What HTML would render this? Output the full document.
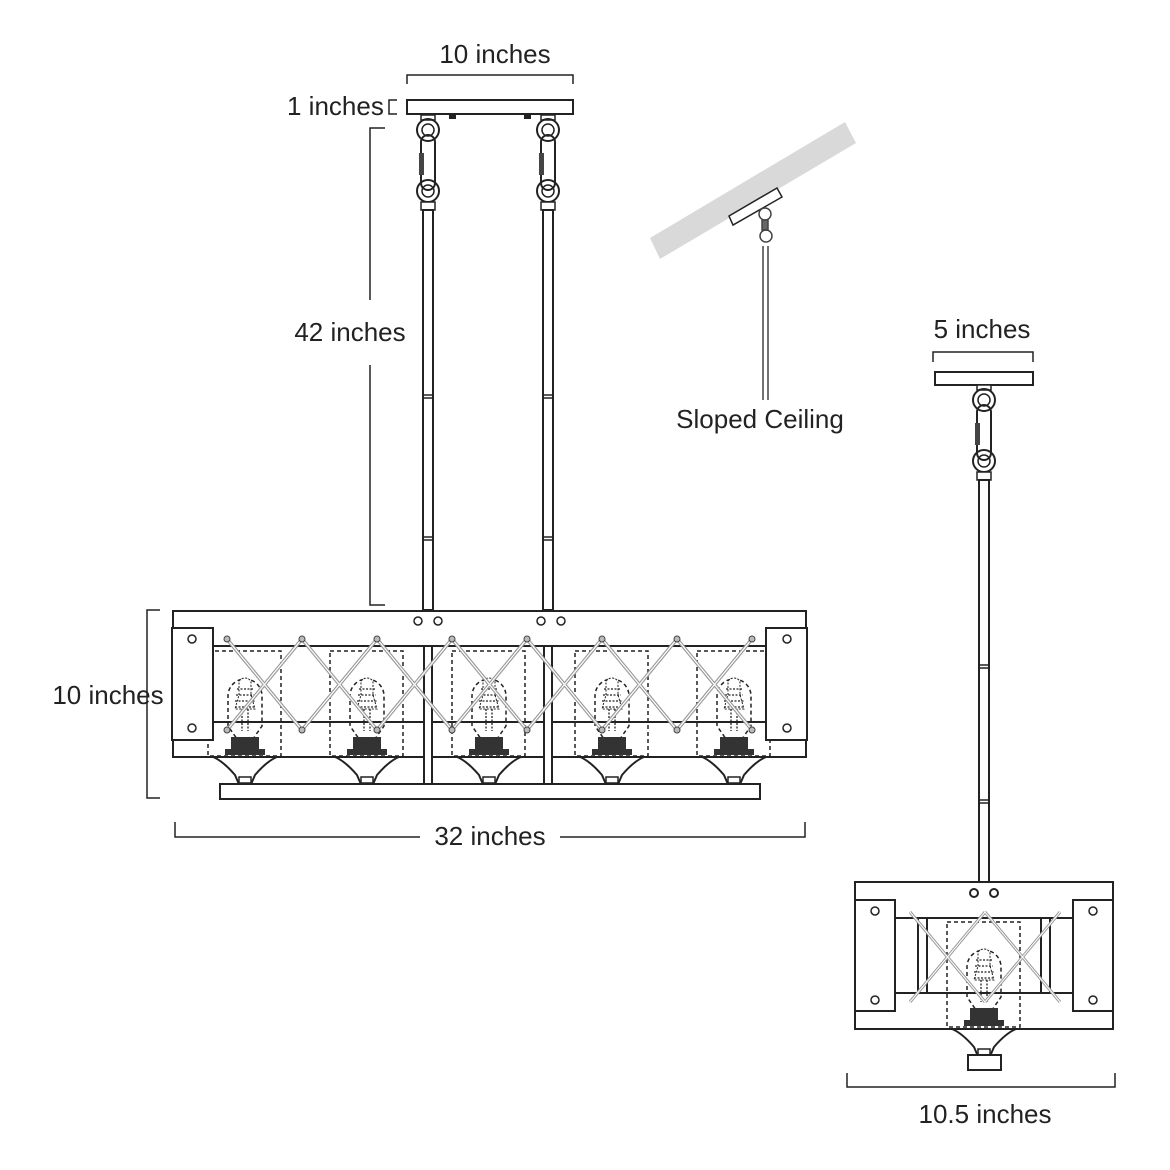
<!DOCTYPE html>
<html><head><meta charset="utf-8"><style>
html,body{margin:0;padding:0;background:#fff;}
svg{display:block}
text{font-family:"Liberation Sans",Arial,sans-serif;font-size:26px;fill:#222}
</style></head><body>
<svg width="1170" height="1170" viewBox="0 0 1170 1170" xmlns="http://www.w3.org/2000/svg">
<defs>
<g id="bulb">
  <rect x="-37" y="0" width="73" height="105" fill="none" stroke="#222" stroke-width="1.5" stroke-dasharray="4,3"/>
  <path d="M-17,75 L-17,45 A17,17 0 0 1 17,45 L17,75 Q10,85 8,88 L-8,88 Q-10,85 -17,75Z" fill="none" stroke="#222" stroke-width="1.5" stroke-dasharray="4,3"/>
  <path d="M-6,44 L-6,30 Q0,24 6,30 L6,44 L10,58 L-10,58Z" fill="#fff" stroke="#222" stroke-width="1" stroke-dasharray="2,1.5"/>
  <path d="M-8,38 H8 M-9,44 H9 M-10,50 H10 M-10,56 H10 M-3,58 V80 M3,58 V80" stroke="#222" stroke-width="1.3" stroke-dasharray="2,1.5"/>
  <rect x="-14" y="86" width="28" height="12" fill="#333"/>
  <rect x="-20" y="98" width="40" height="6" fill="#333"/>
</g>
<g id="cup">
  <path d="M-32,0 H32 Q22,4 10,18 L7,25 H-7 L-10,18 Q-22,4 -32,0Z" fill="#fff" stroke="#222" stroke-width="2"/>
  <rect x="-6" y="20" width="12" height="6" fill="#fff" stroke="#222" stroke-width="1.5"/>
</g>
<g id="chain">
  <rect x="-7" y="0" width="14" height="5" fill="#fff" stroke="#222" stroke-width="1.5"/>
  <circle cx="0" cy="15" r="11" fill="none" stroke="#222" stroke-width="2"/>
  <circle cx="0" cy="15" r="6" fill="none" stroke="#222" stroke-width="1.5"/>
  <rect x="-7" y="20" width="14" height="55" rx="7" fill="none" stroke="#222" stroke-width="2"/>
  <rect x="-9" y="38" width="5" height="22" fill="#444"/>
  <circle cx="0" cy="76" r="11" fill="none" stroke="#222" stroke-width="2"/>
  <circle cx="0" cy="76" r="6" fill="none" stroke="#222" stroke-width="1.5"/>
  <rect x="-7" y="87" width="14" height="8" fill="#fff" stroke="#222" stroke-width="1.5"/>
</g>
</defs>

<text x="495" y="63" text-anchor="middle">10 inches</text>
<path d="M407,84 V75 H573 V84" fill="none" stroke="#222" stroke-width="1.5"/>
<text x="287" y="115">1 inches</text>
<path d="M397,100 H389 V114 H397" fill="none" stroke="#222" stroke-width="1.5"/>
<rect x="407" y="100" width="166" height="14" fill="#fff" stroke="#222" stroke-width="2"/>
<rect x="449" y="114" width="7" height="5" fill="#222"/>
<rect x="524" y="114" width="7" height="5" fill="#222"/>

<use href="#chain" x="428" y="115"/>
<use href="#chain" x="548" y="115"/>
<g fill="#fff" stroke="#222" stroke-width="2">
<rect x="423" y="210" width="10" height="400"/>
<rect x="543" y="210" width="10" height="400"/>
</g>
<path d="M423,395 H433 M423,398 H433 M423,537 H433 M423,540 H433 M543,395 H553 M543,398 H553 M543,537 H553 M543,540 H553" stroke="#222" stroke-width="1.5"/>

<path d="M385,128 H370 V300 M370,365 V605 H385" fill="none" stroke="#222" stroke-width="1.5"/>
<text x="350" y="341" text-anchor="middle">42 inches</text>

<rect x="173" y="611" width="633" height="146" fill="#fff" stroke="#222" stroke-width="2"/>
<path d="M213,646 H766 M213,722 H766" stroke="#222" stroke-width="2"/>
<g fill="none" stroke="#222" stroke-width="1.5">
<circle cx="418" cy="621" r="4"/><circle cx="438" cy="621" r="4"/>
<circle cx="541" cy="621" r="4"/><circle cx="561" cy="621" r="4"/>
</g>
<g fill="#fff" stroke="#222" stroke-width="2">
<rect x="424" y="646" width="8" height="138"/>
<rect x="544" y="646" width="8" height="138"/>
</g>
<use href="#bulb" x="245" y="651"/>
<use href="#bulb" x="367" y="651"/>
<use href="#bulb" x="489" y="651"/>
<use href="#bulb" x="612" y="651"/>
<use href="#bulb" x="734" y="651"/>
<g fill="none" stroke="#999" stroke-width="3.5">
<path d="M227,639 L302,730 L377,639 L452,730 L527,639 L602,730 L677,639 L752,730 M227,730 L302,639 L377,730 L452,639 L527,730 L602,639 L677,730 L752,639"/>
</g>
<path d="M227,639 L302,730 L377,639 L452,730 L527,639 L602,730 L677,639 L752,730 M227,730 L302,639 L377,730 L452,639 L527,730 L602,639 L677,730 L752,639" fill="none" stroke="#fff" stroke-width="1.2"/>
<g fill="#bbb" stroke="#444" stroke-width="1">
<circle cx="227" cy="639" r="3"/><circle cx="302" cy="639" r="3"/><circle cx="377" cy="639" r="3"/><circle cx="452" cy="639" r="3"/><circle cx="527" cy="639" r="3"/><circle cx="602" cy="639" r="3"/><circle cx="677" cy="639" r="3"/><circle cx="752" cy="639" r="3"/>
<circle cx="227" cy="730" r="3"/><circle cx="302" cy="730" r="3"/><circle cx="377" cy="730" r="3"/><circle cx="452" cy="730" r="3"/><circle cx="527" cy="730" r="3"/><circle cx="602" cy="730" r="3"/><circle cx="677" cy="730" r="3"/><circle cx="752" cy="730" r="3"/>
</g>
<g fill="#fff" stroke="#222" stroke-width="2">
<rect x="172" y="628" width="41" height="112"/>
<rect x="766" y="628" width="41" height="112"/>
</g>
<g fill="none" stroke="#222" stroke-width="1.5">
<circle cx="192" cy="639" r="4"/><circle cx="192" cy="728" r="4"/>
<circle cx="787" cy="639" r="4"/><circle cx="787" cy="728" r="4"/>
</g>
<use href="#cup" x="245" y="757"/>
<use href="#cup" x="367" y="757"/>
<use href="#cup" x="489" y="757"/>
<use href="#cup" x="612" y="757"/>
<use href="#cup" x="734" y="757"/>
<rect x="220" y="784" width="540" height="15" fill="#fff" stroke="#222" stroke-width="2"/>

<path d="M160,610 H147 V798 H160" fill="none" stroke="#222" stroke-width="1.5"/>
<text x="108" y="704" text-anchor="middle">10 inches</text>
<path d="M175,822 V837 H420 M560,837 H805 V822" fill="none" stroke="#222" stroke-width="1.5"/>
<text x="490" y="845" text-anchor="middle">32 inches</text>

<polygon points="650,238 845,122 856,143 660,259" fill="#d9d9d9"/>
<polygon points="729,216 777,188 782,197 733,225" fill="#fff" stroke="#222" stroke-width="1.5"/>
<g fill="none" stroke="#444" stroke-width="1.5">
<circle cx="765" cy="214" r="6"/>
<rect x="762" y="220" width="6" height="10" fill="#666"/>
<circle cx="766" cy="236" r="6"/>
<path d="M763,246 V400 M768,246 V400"/>
</g>
<text x="760" y="428" text-anchor="middle">Sloped Ceiling</text>

<text x="982" y="338" text-anchor="middle">5 inches</text>
<path d="M933,362 V352 H1033 V362" fill="none" stroke="#222" stroke-width="1.5"/>
<rect x="935" y="372" width="98" height="13" fill="#fff" stroke="#222" stroke-width="2"/>
<use href="#chain" x="984" y="385"/>
<rect x="979" y="480" width="10" height="402" fill="#fff" stroke="#222" stroke-width="2"/>
<path d="M979,665 H989 M979,668 H989 M979,800 H989 M979,803 H989" stroke="#222" stroke-width="1.5"/>
<rect x="855" y="882" width="258" height="147" fill="#fff" stroke="#222" stroke-width="2"/>
<path d="M895,918 H1073 M895,993 H1073" stroke="#222" stroke-width="2"/>
<g fill="none" stroke="#222" stroke-width="2">
<rect x="918" y="918" width="9" height="75"/><rect x="1041" y="918" width="9" height="75"/>
<circle cx="974" cy="893" r="4"/><circle cx="994" cy="893" r="4"/>
</g>
<use href="#bulb" x="984" y="922"/>
<path d="M910,912 L985,1002 M985,912 L910,1002 M985,912 L1060,1002 M1060,912 L985,1002" fill="none" stroke="#999" stroke-width="3"/>
<path d="M910,912 L985,1002 M985,912 L910,1002 M985,912 L1060,1002 M1060,912 L985,1002" fill="none" stroke="#fff" stroke-width="1"/>
<g fill="#fff" stroke="#222" stroke-width="2">
<rect x="855" y="900" width="40" height="111"/>
<rect x="1073" y="900" width="40" height="111"/>
</g>
<g fill="none" stroke="#222" stroke-width="1.5">
<circle cx="875" cy="911" r="4"/><circle cx="875" cy="1000" r="4"/>
<circle cx="1093" cy="911" r="4"/><circle cx="1093" cy="1000" r="4"/>
</g>
<use href="#cup" x="984" y="1029"/>
<rect x="968" y="1055" width="33" height="15" fill="#fff" stroke="#222" stroke-width="2"/>
<path d="M847,1073 V1087 H1115 V1073" fill="none" stroke="#222" stroke-width="1.5"/>
<text x="985" y="1123" text-anchor="middle">10.5 inches</text>
</svg>
</body></html>
